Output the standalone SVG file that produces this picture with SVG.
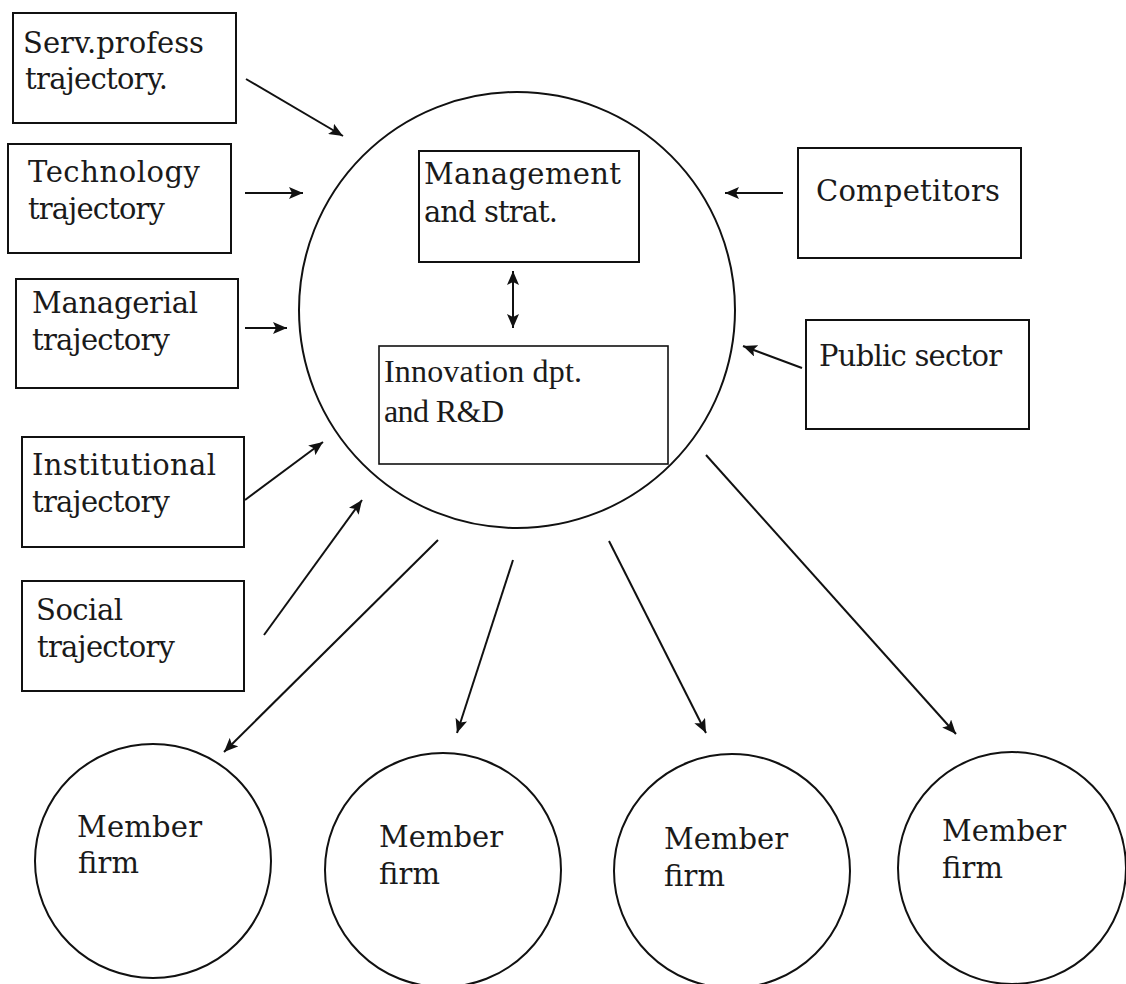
<svg xmlns="http://www.w3.org/2000/svg" width="1126" height="984" viewBox="0 0 1126 984">
<defs>
<marker id="ah" markerUnits="userSpaceOnUse" markerWidth="16" markerHeight="12" refX="14" refY="6" orient="auto-start-reverse">
<path d="M0,0 L14,6 L0,12 L3,6 z" fill="#111"/>
</marker>
</defs>
<style>
.box{fill:#fff;stroke:#111;stroke-width:2}
.circ{fill:#fff;stroke:#111;stroke-width:2}
.t{font-family:"DejaVu Serif","Liberation Serif",serif;font-size:29px;fill:#1a1a1a}
.ti{font-family:"Liberation Serif","DejaVu Serif",serif;font-size:32px;fill:#1a1a1a}
.c{stroke:#111;stroke-width:2;fill:none;marker-end:url(#ah)}
</style>
<rect width="1126" height="984" fill="#fff"/>
<g id="central">
<ellipse class="circ" cx="517" cy="310" rx="218" ry="218"/>
</g>
<g id="management">
<rect class="box" x="419" y="151" width="220" height="111"/>
<text class="t" x="424" y="184" textLength="197" lengthAdjust="spacing">Management</text>
<text class="t" x="424" y="222" textLength="134" lengthAdjust="spacing">and strat.</text>
</g>
<g id="innovation">
<rect class="box" x="379" y="346" width="289" height="118" style="stroke-width:1.6"/>
<text class="ti" x="384" y="382" textLength="198" lengthAdjust="spacing">Innovation dpt.</text>
<text class="ti" x="384" y="422" textLength="120" lengthAdjust="spacing">and R&amp;D</text>
</g>
<g id="serv">
<rect class="box" x="13" y="13" width="223" height="110"/>
<text class="t" x="23" y="53" textLength="181" lengthAdjust="spacing">Serv.profess</text>
<text class="t" x="25" y="89" textLength="143" lengthAdjust="spacing">trajectory.</text>
</g>
<g id="technology">
<rect class="box" x="8" y="144" width="223" height="109"/>
<text class="t" x="28" y="182" textLength="172" lengthAdjust="spacing">Technology</text>
<text class="t" x="28" y="219" textLength="137" lengthAdjust="spacing">trajectory</text>
</g>
<g id="managerial">
<rect class="box" x="16" y="279" width="222" height="109"/>
<text class="t" x="32" y="313" textLength="166" lengthAdjust="spacing">Managerial</text>
<text class="t" x="32" y="350" textLength="138" lengthAdjust="spacing">trajectory</text>
</g>
<g id="institutional">
<rect class="box" x="22" y="437" width="222" height="110"/>
<text class="t" x="32" y="475" textLength="184" lengthAdjust="spacing">Institutional</text>
<text class="t" x="32" y="512" textLength="138" lengthAdjust="spacing">trajectory</text>
</g>
<g id="social">
<rect class="box" x="22" y="581" width="222" height="110"/>
<text class="t" x="36" y="620" textLength="87" lengthAdjust="spacing">Social</text>
<text class="t" x="37" y="657" textLength="138" lengthAdjust="spacing">trajectory</text>
</g>
<g id="competitors">
<rect class="box" x="798" y="148" width="223" height="110"/>
<text class="t" x="816" y="201" textLength="184" lengthAdjust="spacing">Competitors</text>
</g>
<g id="public">
<rect class="box" x="806" y="320" width="223" height="109"/>
<text class="t" x="819" y="366" textLength="183" lengthAdjust="spacing">Public sector</text>
</g>
<g id="member1">
<ellipse class="circ" cx="153" cy="861" rx="118" ry="117"/>
<text class="t" x="77" y="837" textLength="125" lengthAdjust="spacing">Member</text>
<text class="t" x="78" y="873" textLength="61" lengthAdjust="spacing">firm</text>
</g>
<g id="member2">
<ellipse class="circ" cx="443" cy="870" rx="118" ry="117"/>
<text class="t" x="379" y="847" textLength="124" lengthAdjust="spacing">Member</text>
<text class="t" x="379" y="884" textLength="61" lengthAdjust="spacing">firm</text>
</g>
<g id="member3">
<ellipse class="circ" cx="732" cy="871" rx="118" ry="117"/>
<text class="t" x="664" y="849" textLength="124" lengthAdjust="spacing">Member</text>
<text class="t" x="664" y="886" textLength="61" lengthAdjust="spacing">firm</text>
</g>
<g id="member4">
<ellipse class="circ" cx="1012" cy="868" rx="114" ry="116"/>
<text class="t" x="942" y="841" textLength="124" lengthAdjust="spacing">Member</text>
<text class="t" x="942" y="878" textLength="61" lengthAdjust="spacing">firm</text>
</g>
<g id="connectors">
<line class="c" x1="246" y1="79" x2="343" y2="136"/>
<line class="c" x1="245" y1="193" x2="303" y2="193"/>
<line class="c" x1="245" y1="328" x2="287" y2="328"/>
<line class="c" x1="245" y1="500" x2="323" y2="442"/>
<line class="c" x1="264" y1="635" x2="362" y2="500"/>
<line class="c" x1="783" y1="193" x2="725" y2="193"/>
<line class="c" x1="802" y1="368" x2="743" y2="346"/>
<line class="c" x1="513" y1="271" x2="513" y2="328" style="marker-start:url(#ah)"/>
<line class="c" x1="438" y1="540" x2="224" y2="752"/>
<line class="c" x1="513" y1="560" x2="457" y2="733"/>
<line class="c" x1="609" y1="541" x2="706" y2="733"/>
<line class="c" x1="706" y1="455" x2="956" y2="734"/>
</g>
</svg>
